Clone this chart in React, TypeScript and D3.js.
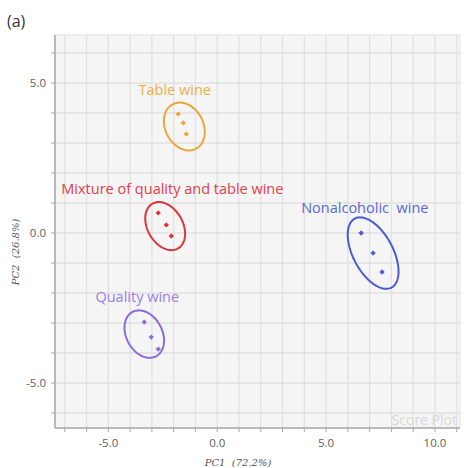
import React from "react";
import * as d3 from "d3";

const groups = ["Table wine", "Mixture of quality and table wine", "Nonalcoholic  wine", "Quality wine"];
const groupColors = ["#eba63a", "#d8363c", "#4a5bd0", "#8b6bd8"];
const labelColors = ["#efae48", "#e0404a", "#5868d2", "#9a7fe0"];

// scores (PC1, PC2) per group
const pc1Values = [
  [-1.79, -1.56, -1.42],
  [-2.71, -2.34, -2.11],
  [6.61, 7.16, 7.57],
  [-3.35, -3.03, -2.71],
];
const pc2Values = [
  [3.97, 3.67, 3.3],
  [0.67, 0.27, -0.1],
  [0.0, -0.67, -1.3],
  [-2.97, -3.47, -3.87],
];

// confidence ellipses: center and semi-axis vectors in data units
const ellipseCenterX = [-1.51, -2.39, 7.16, -3.35];
const ellipseCenterY = [3.55, 0.23, -0.67, -3.37];
const ellipseMajor = [
  [0.54, -0.74],
  [0.59, -0.745],
  [0.84, -1.15],
  [0.54, -0.74],
];
const ellipseMinor = [
  [-0.77, -0.3],
  [-0.7, -0.295],
  [-0.81, -0.31],
  [-0.73, -0.28],
];

// label anchors (data units)
const labelX = [-1.95, -2.06, 6.78, -3.67];
const labelY = [4.6, 1.3, 0.67, -2.3];

const xTicks = [-5, 0, 5, 10];
const yTicks = [-5, 0, 5];
const xTickLabels = ["-5.0", "0.0", "5.0", "10.0"];
const yTickLabels = ["-5.0", "0.0", "5.0"];

export default function App() {
  const W = 464;
  const H = 468;
  const x = d3.scaleLinear().domain([-7.45, 11.15]).range([55, 460]);
  const y = d3.scaleLinear().domain([-6.5, 6.6]).range([428, 35]);
  const font = "'Open Sans', 'Noto Sans', sans-serif";

  const minorX = d3.range(-7, 12, 1);
  const minorY = d3.range(-6, 7, 1);

  const diamond = d3.symbol().type(d3.symbolDiamond2).size(18)();
  const line = d3.line<[number, number]>().curve(d3.curveLinearClosed);

  const ellipsePath = (i: number) => {
    const pts: [number, number][] = d3.range(0, 120).map((k) => {
      const t = (k / 120) * Math.PI * 2;
      const dx = Math.cos(t) * ellipseMajor[i][0] + Math.sin(t) * ellipseMinor[i][0];
      const dy = Math.cos(t) * ellipseMajor[i][1] + Math.sin(t) * ellipseMinor[i][1];
      return [x(ellipseCenterX[i] + dx), y(ellipseCenterY[i] + dy)];
    });
    return line(pts) || "";
  };

  return (
    <svg width={W} height={H} style={{ position: "absolute", left: 0, top: 0, background: "#fff" }}>
      <text x={7} y={27} fontFamily={font} fontSize={16} fill="#333">(a)</text>
      <rect x={55} y={35} width={405} height={393} fill="#f5f5f5" stroke="#e2e2e2" />
      {minorX.map((v) => (
        <line key={"gx" + v} x1={x(v)} x2={x(v)} y1={35} y2={428} stroke="#e1e1e1" strokeWidth={1.3} />
      ))}
      {minorY.map((v) => (
        <line key={"gy" + v} x1={55} x2={460} y1={y(v)} y2={y(v)} stroke="#e1e1e1" strokeWidth={1.3} />
      ))}
      {/* axes */}
      <line x1={55} x2={55} y1={35} y2={428} stroke="#a8a8a8" strokeWidth={1.5} />
      <line x1={55} x2={460} y1={428} y2={428} stroke="#a8a8a8" strokeWidth={1.5} />
      {minorX.map((v) => (
        <line key={"tx" + v} x1={x(v)} x2={x(v)} y1={428} y2={432} stroke="#a8a8a8" />
      ))}
      {minorY.map((v) => (
        <line key={"ty" + v} x1={51} x2={55} y1={y(v)} y2={y(v)} stroke="#a8a8a8" />
      ))}
      {xTicks.map((v, i) => (
        <text key={"xl" + v} x={x(v)} y={447} textAnchor="middle" fontFamily={font} fontSize={11.5} fill="#606060">
          {xTickLabels[i]}
        </text>
      ))}
      {yTicks.map((v, i) => (
        <text key={"yl" + v} x={46} y={y(v) + 4} textAnchor="end" fontFamily={font} fontSize={11.5} fill="#606060">
          {yTickLabels[i]}
        </text>
      ))}
      <text x={238} y={466} textAnchor="middle" fontFamily="'DejaVu Serif', serif" fontStyle="italic" fontSize={10} fill="#555" style={{ whiteSpace: "pre" }}>
        PC1  (72.2%)
      </text>
      <text
        transform={`translate(19,252) rotate(-90)`}
        textAnchor="middle"
        fontFamily="'DejaVu Serif', serif"
        fontStyle="italic"
        fontSize={10}
        fill="#555"
        style={{ whiteSpace: "pre" }}
      >
        PC2  (26.8%)
      </text>
      <text x={457} y={425} textAnchor="end" fontFamily={font} fontSize={14} fill="#d8d8d8">Score Plot</text>
      {groups.map((g, i) => (
        <g key={g}>
          <path d={ellipsePath(i)} fill="none" stroke={groupColors[i]} strokeWidth={2} />
          {pc1Values[i].map((v, j) => (
            <path key={j} d={diamond} transform={`translate(${x(v)},${y(pc2Values[i][j])})`} fill={groupColors[i]} />
          ))}
          <text
            x={x(labelX[i])}
            y={y(labelY[i])}
            textAnchor="middle"
            fontFamily={font}
            fontSize={14.5}
            fill={labelColors[i]}
            style={{ whiteSpace: "pre" }}
          >
            {g}
          </text>
        </g>
      ))}
    </svg>
  );
}
